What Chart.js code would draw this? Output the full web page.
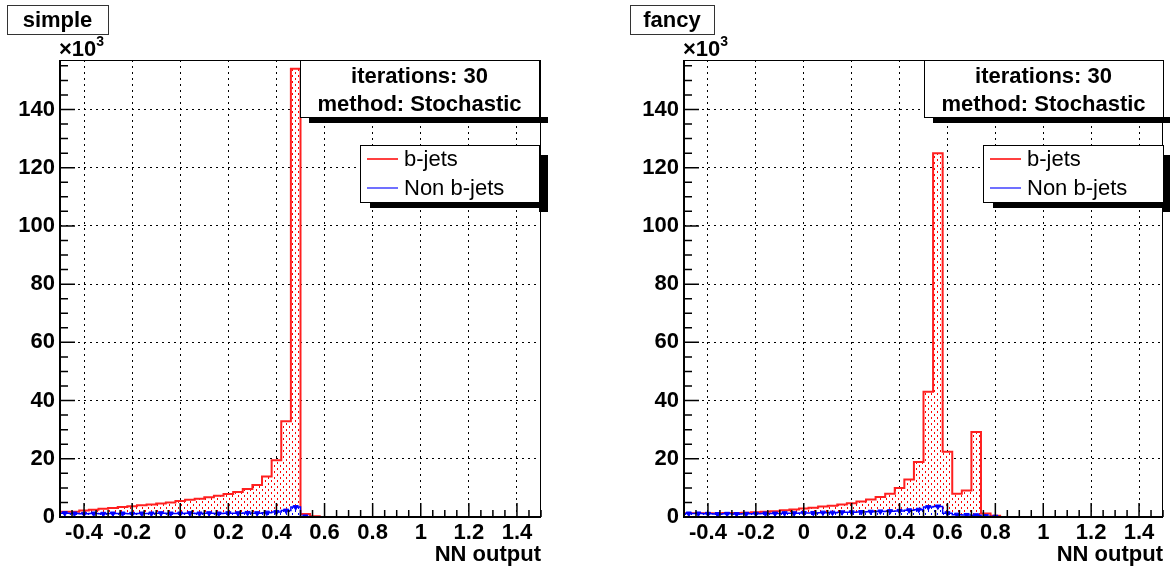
<!DOCTYPE html>
<html>
<head>
<meta charset="utf-8">
<script src="https://cdn.jsdelivr.net/npm/chart.js@4.4.0/dist/chart.umd.min.js"></script>
<style>
  html, body { margin: 0; padding: 0; background: #fff; }
  .panel { position: absolute; top: 0; width: 585px; height: 573px; }
</style>
</head>
<body>
<div class="panel" style="left:0"><canvas id="simpleChart" width="585" height="573"></canvas></div>
<div class="panel" style="left:585px"><canvas id="fancyChart" width="585" height="573"></canvas></div>
<script>
// bin edges of the NN output histograms (50 bins)
const binEdges = [-0.5, -0.46, -0.42, -0.38, -0.34, -0.30, -0.26, -0.22, -0.18, -0.14,
  -0.10, -0.06, -0.02, 0.02, 0.06, 0.10, 0.14, 0.18, 0.22, 0.26,
  0.30, 0.34, 0.38, 0.42, 0.46, 0.50, 0.54, 0.58, 0.62, 0.66,
  0.70, 0.74, 0.78, 0.82, 0.86, 0.90, 0.94, 0.98, 1.02, 1.06,
  1.10, 1.14, 1.18, 1.22, 1.26, 1.30, 1.34, 1.38, 1.42, 1.46, 1.50];

// entries per bin, in units of 10^3
const simpleBJets = [1.8, 1.8, 2.2, 2.5, 2.8, 3.1, 3.4, 3.7, 4.0, 4.3,
  4.6, 5.0, 5.5, 5.9, 6.3, 6.8, 7.3, 7.9, 8.6, 9.6,
  11.0, 13.9, 19.5, 32.9, 154, 1.0, 0.3, 0, 0, 0,
  0, 0, 0, 0, 0, 0, 0, 0, 0, 0,
  0, 0, 0, 0, 0, 0, 0, 0, 0, 0];
const simpleNonB = [1.3, 1.2, 1.1, 1.2, 1.1, 1.2, 1.2, 1.1, 1.2, 1.2,
  1.3, 1.2, 1.2, 1.3, 1.2, 1.3, 1.2, 1.3, 1.3, 1.4,
  1.3, 1.5, 1.7, 2.2, 3.4, 0.2, 0, 0, 0, 0,
  0, 0, 0, 0, 0, 0, 0, 0, 0, 0,
  0, 0, 0, 0, 0, 0, 0, 0, 0, 0];
const fancyBJets = [1.3, 1.3, 1.3, 1.2, 1.4, 1.4, 1.5, 1.6, 1.8, 2.0,
  2.3, 2.6, 2.9, 3.2, 3.6, 3.9, 4.3, 4.7, 5.3, 6.0,
  6.9, 8.0, 10.0, 12.9, 18.9, 43, 125, 22.4, 8.0, 9.1,
  29.2, 1.2, 0.4, 0, 0, 0, 0, 0, 0, 0,
  0, 0, 0, 0, 0, 0, 0, 0, 0, 0];
const fancyNonB = [1.2, 1.2, 1.1, 1.0, 1.1, 1.0, 1.1, 1.1, 1.2, 1.2,
  1.3, 1.3, 1.4, 1.4, 1.5, 1.5, 1.6, 1.6, 1.7, 1.8,
  1.9, 2.0, 2.1, 2.3, 2.5, 3.4, 3.6, 1.3, 0.8, 0.7,
  0.6, 0.3, 0.1, 0, 0, 0, 0, 0, 0, 0,
  0, 0, 0, 0, 0, 0, 0, 0, 0, 0];

const xTickValues = [-0.4, -0.2, 0, 0.2, 0.4, 0.6, 0.8, 1, 1.2, 1.4];
const xTickLabels = ['-0.4', '-0.2', '0', '0.2', '0.4', '0.6', '0.8', '1', '1.2', '1.4'];
const yTickValues = [0, 20, 40, 60, 80, 100, 120, 140];
const seriesNames = ['b-jets', 'Non b-jets'];
const statsLines = ['iterations: 30', 'method: Stochastic'];

const FONT = '"Liberation Sans", Arial, Helvetica, sans-serif';

function dotPattern(color) {
  const c = document.createElement('canvas');
  c.width = 6; c.height = 6;
  const g = c.getContext('2d');
  g.fillStyle = '#fff';
  g.fillRect(0, 0, 6, 6);
  g.fillStyle = color;
  g.fillRect(1, 0, 1, 2);
  g.fillRect(4, 3, 1, 2);
  return g.createPattern(c, 'repeat');
}

// step outline points: left edge of each bin, plus the last edge
function histPoints(values) {
  const pts = values.map((v, i) => ({ x: binEdges[i], y: v }));
  pts.push({ x: binEdges[values.length], y: values[values.length - 1] });
  return pts;
}
function markerPoints(values) {
  return values.map((v, i) => ({ x: (binEdges[i] + binEdges[i + 1]) / 2, y: v }))
    .filter(p => p.y > 0);
}

const rootDecor = {
  id: 'rootDecor',
  afterDraw(chart, args, o) {
    const { ctx, chartArea: a, scales: { x, y } } = chart;
    ctx.save();

    // ticks inside the frame
    ctx.strokeStyle = '#000';
    ctx.lineWidth = 1.5;
    ctx.beginPath();
    for (let k = 0; k <= 40; k++) {
      const v = -0.5 + k * 0.05;
      const major = xTickValues.some(t => Math.abs(t - v) < 1e-6);
      const px = x.getPixelForValue(v);
      ctx.moveTo(px, a.bottom);
      ctx.lineTo(px, a.bottom - (major ? 14 : 7));
    }
    for (let v = 0; v <= y.max; v += 5) {
      const major = v % 20 === 0;
      const py = y.getPixelForValue(v);
      ctx.moveTo(a.left, py);
      ctx.lineTo(a.left + (major ? 15 : 8), py);
    }
    ctx.stroke();

    // frame
    ctx.lineWidth = 1;
    ctx.strokeRect(a.left + 0.5, a.top + 0.5, a.right - a.left - 1, a.bottom - a.top);
    ctx.lineWidth = 2;
    ctx.beginPath();
    ctx.moveTo(a.left, a.top);
    ctx.lineTo(a.left, a.bottom);
    ctx.lineTo(a.right, a.bottom);
    ctx.stroke();

    // x10^3 exponent
    ctx.fillStyle = '#000';
    ctx.textAlign = 'left';
    ctx.textBaseline = 'alphabetic';
    ctx.font = 'bold 22px ' + FONT;
    ctx.fillText('\u00d710', a.left - 1, 56);
    const w10 = ctx.measureText('\u00d710').width;
    ctx.font = 'bold 14px ' + FONT;
    ctx.fillText('3', a.left - 1 + w10, 46);

    // title box
    const t = o.titleBox;
    ctx.fillStyle = '#fff';
    ctx.fillRect(t.x, t.y, t.w, t.h);
    ctx.strokeStyle = '#333';
    ctx.lineWidth = 1;
    ctx.strokeRect(t.x + 0.5, t.y + 0.5, t.w, t.h);
    ctx.fillStyle = '#000';
    ctx.font = 'bold 22px ' + FONT;
    ctx.textAlign = 'center';
    ctx.textBaseline = 'middle';
    ctx.fillText(o.title, t.x + t.w / 2, t.y + t.h / 2 + 1);

    // stats box with shadow
    const s = o.statsBox;
    ctx.fillStyle = '#000';
    ctx.fillRect(s.x + 9, s.y + s.h, s.w, 6);
    ctx.fillStyle = '#fff';
    ctx.fillRect(s.x, s.y, s.w, s.h);
    ctx.strokeStyle = '#000';
    ctx.strokeRect(s.x + 0.5, s.y + 0.5, s.w, s.h);
    ctx.fillStyle = '#000';
    ctx.font = 'bold 22px ' + FONT;
    ctx.fillText(statsLines[0], s.x + s.w / 2, s.y + 17);
    ctx.fillText(statsLines[1], s.x + s.w / 2, s.y + 45);

    // legend box with shadow
    const l = o.legendBox;
    ctx.fillStyle = '#000';
    ctx.fillRect(l.x + l.w, l.y + 10, 9, l.h);
    ctx.fillRect(l.x + 10, l.y + l.h, l.w - 1, 6);
    ctx.fillStyle = '#fff';
    ctx.fillRect(l.x, l.y, l.w, l.h);
    ctx.strokeStyle = '#000';
    ctx.strokeRect(l.x + 0.5, l.y + 0.5, l.w, l.h);
    const rows = [[seriesNames[0], '#ff0000', l.y + 14], [seriesNames[1], '#4040ff', l.y + 43]];
    ctx.font = '22px ' + FONT;
    ctx.textAlign = 'left';
    rows.forEach(([name, col, ry]) => {
      ctx.strokeStyle = col;
      ctx.lineWidth = 1.5;
      ctx.beginPath();
      ctx.moveTo(l.x + 7, ry);
      ctx.lineTo(l.x + 38, ry);
      ctx.stroke();
      ctx.fillStyle = '#000';
      ctx.fillText(name, l.x + 44, ry + 1);
    });

    ctx.restore();
  }
};

function makePanel(id, title, bjets, nonb, geom) {
  const ctx = document.getElementById(id).getContext('2d');
  return new Chart(ctx, {
    type: 'line',
    data: {
      datasets: [
        {
          label: seriesNames[1] + ' markers',
          type: 'scatter',
          data: markerPoints(nonb),
          pointStyle: 'triangle',
          rotation: 180,
          pointRadius: 3,
          backgroundColor: '#0000ff',
          borderColor: '#0000ff',
          borderWidth: 1,
          order: 1
        },
        {
          label: seriesNames[1],
          data: histPoints(nonb),
          stepped: 'before',
          borderColor: '#0000ff',
          borderWidth: 1.5,
          pointRadius: 0,
          fill: 'origin',
          backgroundColor: dotPattern('#0000ff'),
          order: 2
        },
        {
          label: seriesNames[0],
          data: histPoints(bjets),
          stepped: 'before',
          borderColor: '#ff2020',
          borderWidth: 2,
          pointRadius: 0,
          fill: 'origin',
          backgroundColor: dotPattern('#ff0000'),
          order: 3
        }
      ]
    },
    options: {
      responsive: false,
      animation: false,
      devicePixelRatio: 1,
      layout: { padding: { left: 0, top: 60, right: geom.right, bottom: 0 } },
      plugins: {
        legend: { display: false },
        tooltip: { enabled: false },
        rootDecor: geom
      },
      scales: {
        x: {
          type: 'linear',
          min: -0.5,
          max: 1.5,
          afterBuildTicks: s => { s.ticks = xTickValues.map(v => ({ value: v })); },
          afterFit: s => { s.height = 56; },
          ticks: {
            autoSkip: false,
            maxRotation: 0,
            padding: 3,
            color: '#000',
            font: { family: FONT, size: 22, weight: 'bold' },
            callback: (v, i) => xTickLabels[i]
          },
          grid: { color: '#000', lineWidth: 1, drawTicks: false },
          border: { display: false, dash: [2, 4] },
          title: {
            display: true,
            text: 'NN output',
            align: 'end',
            color: '#000',
            font: { family: FONT, size: 22, weight: 'bold' },
            padding: { top: 0, bottom: 5 }
          }
        },
        y: {
          type: 'linear',
          min: 0,
          max: 157,
          afterBuildTicks: s => { s.ticks = yTickValues.map(v => ({ value: v })); },
          afterFit: s => { s.width = geom.left; },
          ticks: {
            autoSkip: false,
            padding: 5,
            color: '#000',
            font: { family: FONT, size: 22, weight: 'bold' },
            callback: v => String(v)
          },
          grid: { color: '#000', lineWidth: 1, drawTicks: false },
          border: { display: false, dash: [2, 4] }
        }
      }
    },
    plugins: [rootDecor]
  });
}

makePanel('simpleChart', 'simple', simpleBJets, simpleNonB, {
  title: 'simple', left: 60, right: 44,
  titleBox: { x: 7, y: 5, w: 101, h: 29 },
  statsBox: { x: 300, y: 60, w: 239, h: 57 },
  legendBox: { x: 360, y: 145, w: 179, h: 57 }
});
makePanel('fancyChart', 'fancy', fancyBJets, fancyNonB, {
  title: 'fancy', left: 99, right: 7,
  titleBox: { x: 45, y: 5, w: 84, h: 29 },
  statsBox: { x: 339, y: 60, w: 239, h: 57 },
  legendBox: { x: 398, y: 145, w: 180, h: 57 }
});
</script>
</body>
</html>
